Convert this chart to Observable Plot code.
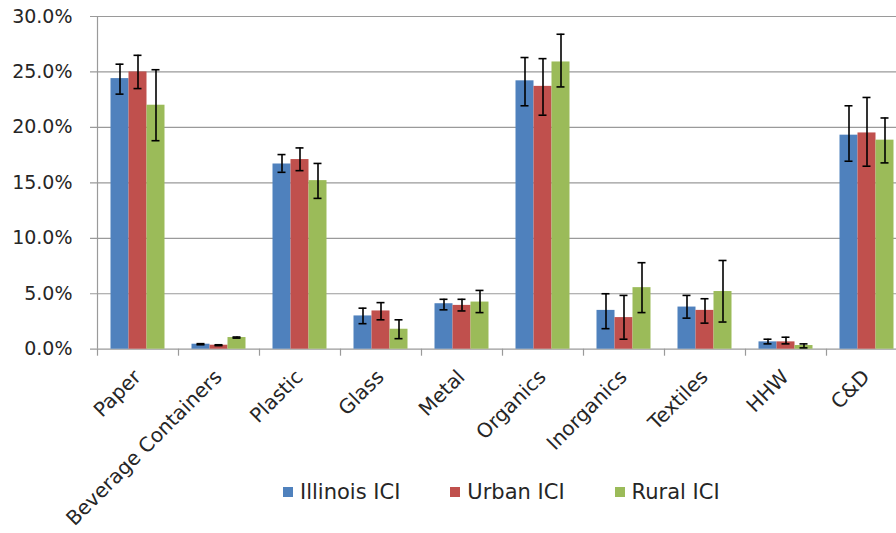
<!DOCTYPE html>
<html>
<head>
<meta charset="utf-8">
<script src="https://cdn.jsdelivr.net/npm/d3@7"></script>
<script src="https://cdn.jsdelivr.net/npm/@observablehq/plot@0.6"></script>
<style>
  html, body { margin: 0; padding: 0; background: #fff; overflow: hidden; width: 896px; height: 533px; }
  #wrap { position: relative; width: 896px; height: 533px; }
  #chart svg { display: block; }
  #legend { position: absolute; left: 283px; top: 480px; display: flex; align-items: center; height: 24px;
            font-family: "DejaVu Sans", sans-serif; font-size: 21px; color: #262626; }
  #legend .item { display: flex; align-items: center; margin-right: 50px; }
  #legend .sw { width: 10px; height: 10px; margin-right: 7px; }
</style>
</head>
<body>
<div id="wrap">
<div id="chart"></div>
<div id="legend"></div>
</div>
<script>
const categories = ["Paper", "Beverage Containers", "Plastic", "Glass", "Metal", "Organics", "Inorganics", "Textiles", "HHW", "C&D"];
const seriesNames = ["Illinois ICI", "Urban ICI", "Rural ICI"];
const seriesColors = ["#4F81BD", "#C0504D", "#9BBB59"];
const yTicks = [0, 5, 10, 15, 20, 25, 30];

const illinois     = [24.4, 0.45, 16.7, 3.0, 4.1, 24.2, 3.5, 3.8, 0.66, 19.3];
const illinoisLow  = [23.0, 0.40, 15.95, 2.3, 3.55, 21.95, 1.85, 2.8, 0.48, 16.95];
const illinoisHigh = [25.7, 0.50, 17.55, 3.7, 4.5, 26.3, 5.0, 4.85, 0.9, 21.95];

const urban     = [25.0, 0.36, 17.1, 3.45, 3.95, 23.7, 2.85, 3.5, 0.66, 19.5];
const urbanLow  = [23.5, 0.32, 16.1, 2.65, 3.45, 21.1, 0.9, 2.35, 0.48, 16.5];
const urbanHigh = [26.5, 0.40, 18.15, 4.2, 4.5, 26.2, 4.85, 4.55, 1.08, 22.7];

const rural     = [22.0, 1.05, 15.2, 1.8, 4.25, 25.9, 5.55, 5.2, 0.33, 18.85];
const ruralLow  = [18.8, 1.00, 13.6, 0.95, 3.3, 23.65, 3.3, 2.45, 0.12, 16.8];
const ruralHigh = [25.2, 1.10, 16.75, 2.65, 5.3, 28.4, 7.8, 8.0, 0.48, 20.85];

const seriesData = [
  [illinois, illinoisLow, illinoisHigh],
  [urban, urbanLow, urbanHigh],
  [rural, ruralLow, ruralHigh]
];

const W = 896, H = 533;
const left = 97, step = 81, barW = 18, groupPad = (step - 3 * barW) / 2, capHalf = 4;
const grid = "#9a9a9a";
const font = "DejaVu Sans";

const marks = [
  Plot.ruleY(yTicks, {stroke: grid, strokeWidth: 1.2, insetLeft: -7}),
  Plot.ruleX([categories[0]], {x: d => d, y1: 0, y2: 30, dx: -step / 2, stroke: grid, strokeWidth: 1.2}),
  Plot.ruleX(categories, {x: d => d, y1: 0, y2: 0, insetTop: 7, dx: -step / 2, stroke: grid, strokeWidth: 1.2}),
];

seriesData.forEach(([vals, lo, hi], k) => {
  const rows = categories.map((c, i) => ({category: c, value: vals[i], lo: lo[i], hi: hi[i]}));
  const il = groupPad + k * barW;
  const ir = step - il - barW;
  marks.push(Plot.barY(rows, {x: "category", y: "value", fill: seriesColors[k], insetLeft: il, insetRight: ir}));
  const dx = (k - 1) * barW;
  marks.push(Plot.ruleX(rows, {x: "category", y1: "lo", y2: "hi", dx, stroke: "#000", strokeWidth: 1.6}));
  const cl = il + barW / 2 - capHalf, cr = ir + barW / 2 - capHalf;
  marks.push(Plot.tickY(rows, {x: "category", y: "lo", insetLeft: cl, insetRight: cr, stroke: "#000", strokeWidth: 1.6}));
  marks.push(Plot.tickY(rows, {x: "category", y: "hi", insetLeft: cl, insetRight: cr, stroke: "#000", strokeWidth: 1.6}));
});

marks.push(Plot.axisY(yTicks, {tickSize: 0, tickPadding: 25, tickFormat: d => d.toFixed(1) + "%", fontSize: 19, fontFamily: font, fill: "#262626", label: null}));
marks.push(Plot.text(categories, {x: d => d, frameAnchor: "bottom", rotate: -45, textAnchor: "end", dy: 29, dx: 4, fontSize: 20, fontFamily: font, fill: "#262626"}));

const chart = Plot.plot({
  width: W,
  height: H,
  marginTop: 16,
  marginBottom: H - 348.7,
  marginLeft: left,
  marginRight: 0,
  style: {fontFamily: font, background: "#fff"},
  x: {domain: categories, range: [left, left + step * categories.length], padding: 0, axis: null},
  y: {domain: [0, 30], axis: null},
  marks
});
document.getElementById("chart").appendChild(chart);

const legend = document.getElementById("legend");
seriesNames.forEach((n, k) => {
  const item = document.createElement("div");
  item.className = "item";
  const sw = document.createElement("span");
  sw.className = "sw";
  sw.style.background = seriesColors[k];
  const t = document.createElement("span");
  t.textContent = n;
  item.appendChild(sw);
  item.appendChild(t);
  legend.appendChild(item);
});
</script>
</body>
</html>
